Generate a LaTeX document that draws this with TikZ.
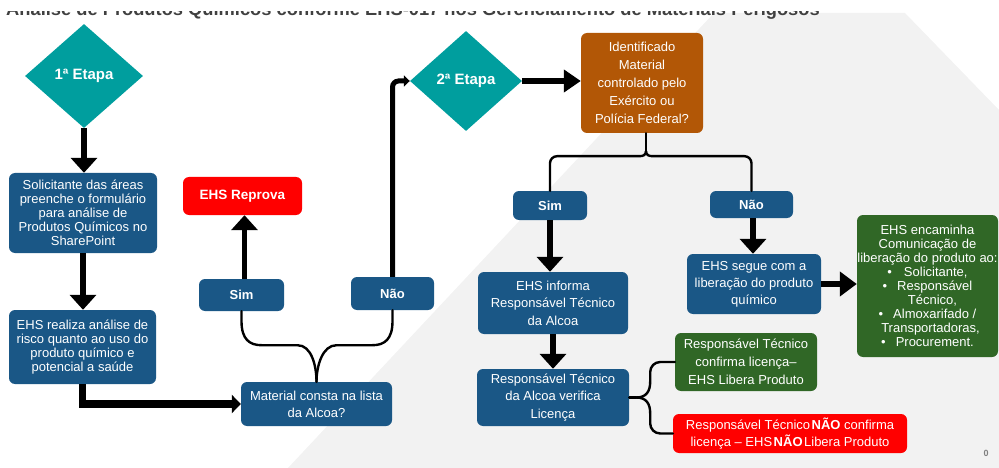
\documentclass[tikz,border=0pt]{standalone}
\usepackage{fontspec}
\setmainfont{Liberation Sans}
\usetikzlibrary{arrows.meta,shapes.geometric,calc}
\definecolor{tealD}{RGB}{0,158,158}
\definecolor{blueB}{RGB}{26,87,134}
\definecolor{brownB}{RGB}{178,87,6}
\definecolor{greenB}{RGB}{48,103,38}
\definecolor{redB}{RGB}{255,0,0}
\definecolor{bgGray}{RGB}{242,242,242}
\definecolor{titleC}{RGB}{64,64,64}
\tikzset{
  box/.style={rounded corners=6pt, text=white, align=center, inner sep=0pt, font=\fontsize{13pt}{14pt}\selectfont},
  bluebox/.style={box, fill=blueB},
  lbl/.style={box, fill=blueB, font=\fontsize{13pt}{14pt}\selectfont\bfseries},
  etapa/.style={diamond, fill=tealD, text=white, inner sep=0pt, font=\fontsize{15pt}{16pt}\selectfont\bfseries},
  bigarrow/.style={line width=5.5pt, -{Triangle[width=26pt,length=15pt]}},
  brace/.style={line width=2.4pt, line cap=round},
}
\begin{document}
\begin{tikzpicture}[x=1pt,y=-1pt]
\useasboundingbox (0,0) rectangle (999,468);
% background
\fill[bgGray] (288,468) -- (714,13) -- (905,13) -- (999,110) -- (999,468) -- cycle;
% title, only its lower edge shows
\node[anchor=base west, inner sep=0pt, text=titleC, font=\fontsize{18.3pt}{19pt}\selectfont\bfseries] (title) at (6,15.5) {Análise de Produtos Químicos conforme EHS-017 nos Gerenciamento de Materiais Perigosos};
\fill[white] (0,0) rectangle (999,11);

% nodes
\node[etapa, minimum width=118pt, minimum height=104pt] (d1) at (84,76) {1ª Etapa};
\node[bluebox, minimum width=148pt, minimum height=80pt] (box1) at (83,213) {Solicitante das áreas\\preenche o formulário\\para análise de\\Produtos Químicos no\\SharePoint};
\node[bluebox, minimum width=147pt, minimum height=74pt] (box2) at (82.5,347) {EHS realiza análise de\\risco quanto ao uso do\\produto químico e\\potencial a saúde};
\node[box, fill=redB, font=\fontsize{13.5pt}{14pt}\selectfont\bfseries, minimum width=119pt, minimum height=38pt] (reprova) at (242.5,196) {EHS Reprova};
\node[lbl, minimum width=85pt, minimum height=32pt] (sim1) at (241.5,295) {Sim};
\node[lbl, minimum width=83pt, minimum height=33pt] (nao1) at (392.5,293.5) {Não};
\node[bluebox, font=\fontsize{13pt}{17pt}\selectfont, minimum width=151pt, minimum height=44pt] (material) at (316.5,404) {Material consta na lista\\da Alcoa?};
\node[etapa, minimum width=112pt, minimum height=100pt] (d2) at (466,81) {2ª Etapa};
\node[box, fill=brownB, font=\fontsize{13pt}{18pt}\selectfont, minimum width=122pt, minimum height=100pt] (brown) at (642,83) {Identificado\\Material\\controlado pelo\\Exército ou\\Polícia Federal?};
\node[lbl, minimum width=74pt, minimum height=29pt] (sim2) at (550,205.5) {Sim};
\node[lbl, minimum width=83pt, minimum height=27pt] (nao2) at (751.5,204.5) {Não};
\node[bluebox, font=\fontsize{13pt}{17.5pt}\selectfont, minimum width=150pt, minimum height=62pt] (informa) at (553,303) {EHS informa\\Responsável Técnico\\da Alcoa};
\node[bluebox, font=\fontsize{13pt}{17.5pt}\selectfont, minimum width=152pt, minimum height=57pt] (verifica) at (553,397.5) {Responsável Técnico\\da Alcoa verifica\\Licença};
\node[box, fill=greenB, font=\fontsize{13pt}{18pt}\selectfont, minimum width=142pt, minimum height=58pt] (green1) at (746,362) {Responsável Técnico\\confirma licença–\\EHS Libera Produto};
\node[box, fill=redB, font=\fontsize{13pt}{17pt}\selectfont, minimum width=234pt, minimum height=39pt] (red2) at (790,433.5) {Responsável Técnico\hspace{1.5pt}\textbf{NÃO} confirma\\licença – EHS\hspace{1.5pt}\textbf{NÃO}\hspace{1.5pt}Libera Produto};
\node[bluebox, font=\fontsize{13pt}{17pt}\selectfont, minimum width=134pt, minimum height=60pt] (segue) at (754,284) {EHS segue com a\\liberação do produto\\químico};
\node[box, fill=greenB, font=\fontsize{13pt}{14pt}\selectfont, minimum width=141pt, minimum height=142pt] (green2) at (927.5,286) {EHS encaminha\\Comunicação de\\liberação do produto ao:\\\textbullet\hspace{12pt}Solicitante,\\\textbullet\hspace{10pt}Responsável\\\hspace{10pt}Técnico,\\\textbullet\hspace{10pt}Almoxarifado /\\\hspace{6pt}Transportadoras,\\\textbullet\hspace{10pt}Procurement.};
\node[text=gray, font=\fontsize{9pt}{10pt}\selectfont\bfseries, inner sep=0pt] (pg) at (986,453) {0};

% arrows
\draw[bigarrow] (d1.south) -- (d1.south |- box1.north);
\draw[bigarrow] (box1.south) -- (box1.south |- box2.north);
\draw[line width=7.5pt, -{Triangle[width=18pt,length=9pt]}] (box2.south) |- (material.west);
\draw[bigarrow] ([xshift=3pt]sim1.north) -- ([xshift=3pt]sim1.north |- reprova.south);
\draw[line width=5pt, rounded corners=6pt, -{Triangle[width=11pt,length=6pt]}] (nao1.north) |- (d2.west);
\draw[line width=6pt, -{Triangle[width=22pt,length=17pt]}] (d2.east) -- (brown.west |- d2.east);
\draw[bigarrow] (sim2.south) -- (sim2.south |- informa.north);
\draw[bigarrow] (informa.south) -- (verifica.north);
\draw[bigarrow] ([xshift=1.5pt]nao2.south) -- ([xshift=1.5pt]nao2.south |- segue.north);
\draw[line width=6pt, -{Triangle[width=24pt,length=17pt]}] (segue.east) -- (green2.west |- segue.east);

% braces
\draw[brace] (sim1.south) -- ++(0,10) .. controls +(0,18) and +(-12,0) .. ++(20,24) -- ++(36,0) .. controls +(14,0) and +(0,-16) .. (material.north);
\draw[brace] (nao1.south) -- ++(0,11) .. controls +(0,18) and +(12,0) .. ++(-20,24) -- ++(-36,0) .. controls +(-14,0) and +(0,-16) .. (material.north);

\draw[brace] ([xshift=4pt]brown.south) -- ++(0,18) coordinate (c2);
\draw[brace] (c2) .. controls +(0,4) and +(4,0) .. ++(-7,5) [rounded corners=7pt] -| (sim2.north);
\draw[brace] (c2) .. controls +(0,4) and +(-4,0) .. ++(7,5) [rounded corners=7pt] -| (nao2.north);

\draw[brace] (verifica.east) -- ++(7,0) coordinate (c3);
\draw[brace] (c3) .. controls +(10,0) and +(0,10) .. ++(14,-16) [rounded corners=10pt] |- (green1.west);
\draw[brace] (c3) .. controls +(10,0) and +(0,-10) .. ++(14,16) [rounded corners=10pt] |- (red2.west);
\end{tikzpicture}
\end{document}
